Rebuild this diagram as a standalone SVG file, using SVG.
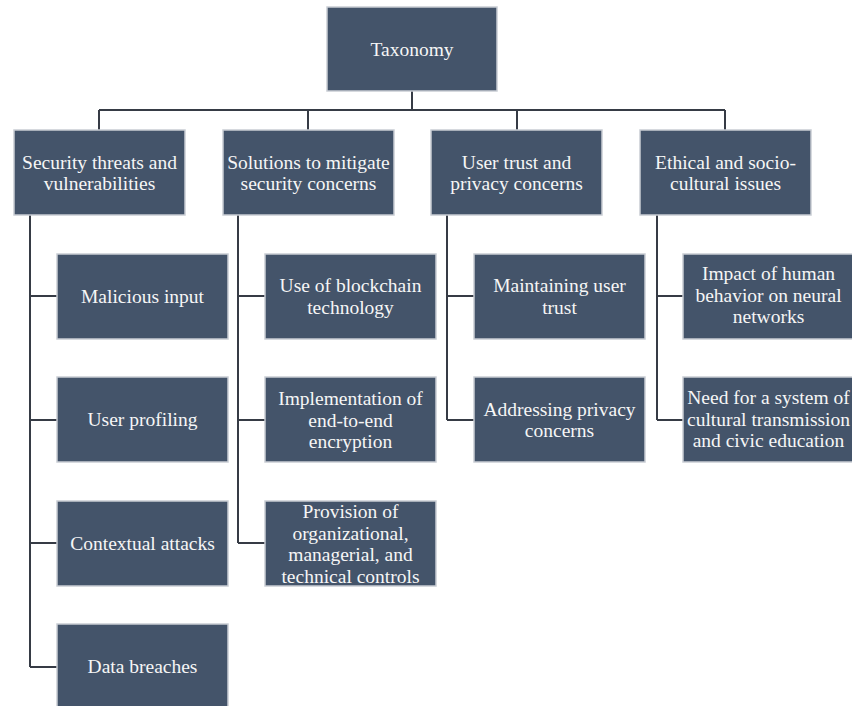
<svg xmlns="http://www.w3.org/2000/svg" width="852" height="706" viewBox="0 0 852 706">
<style>
.box{fill:#44546a;stroke:#c9cdd4;stroke-width:1.5}
.t{font-size:19.5px;fill:#f6f6f6;text-anchor:middle}
.c{fill:none;stroke:#363b45;stroke-width:2}
</style>
<rect width="852" height="706" fill="#ffffff"/>
<g id="connectors" class="c">
<path d="M412 91V110M99 110H725M99 110V130M308 110V130M517 110V130M725 110V130"/>
<path d="M30 215V667M30 296H57M30 420H57M30 543H57M30 667H57"/>
<path d="M238 215V543M238 296H265M238 420H265M238 543H265"/>
<path d="M447 215V420M447 296H474M447 420H474"/>
<path d="M657 215V420M657 296H683M657 420H683"/>
</g>
<g font-family="Liberation Serif, Tinos, DejaVu Serif, serif">
<g id="taxonomy"><rect class="box" x="327" y="7" width="170" height="84"/><text class="t" x="412" y="55.5">Taxonomy</text></g>
<g id="security"><rect class="box" x="14" y="130" width="171" height="85"/><text class="t" x="99.5" y="168.5">Security threats and</text><text class="t" x="99.5" y="190">vulnerabilities</text></g>
<g id="solutions"><rect class="box" x="223" y="130" width="171" height="85"/><text class="t" x="308.5" y="168.5">Solutions to mitigate</text><text class="t" x="308.5" y="190">security concerns</text></g>
<g id="usertrust"><rect class="box" x="431" y="130" width="171" height="85"/><text class="t" x="516.5" y="168.5">User trust and</text><text class="t" x="516.5" y="190">privacy concerns</text></g>
<g id="ethical"><rect class="box" x="640" y="130" width="171" height="85"/><text class="t" x="725.5" y="168.5">Ethical and socio-</text><text class="t" x="725.5" y="190">cultural issues</text></g>
<g id="malicious"><rect class="box" x="57" y="254" width="171" height="85"/><text class="t" x="142.5" y="302.5">Malicious input</text></g>
<g id="profiling"><rect class="box" x="57" y="377" width="171" height="85"/><text class="t" x="142.5" y="426">User profiling</text></g>
<g id="contextual"><rect class="box" x="57" y="501" width="171" height="85"/><text class="t" x="142.5" y="549.5">Contextual attacks</text></g>
<g id="breaches"><rect class="box" x="57" y="624" width="171" height="85"/><text class="t" x="142.5" y="673">Data breaches</text></g>
<g id="blockchain"><rect class="box" x="265" y="254" width="171" height="85"/><text class="t" x="350.5" y="292">Use of blockchain</text><text class="t" x="350.5" y="313.5">technology</text></g>
<g id="encryption"><rect class="box" x="265" y="377" width="171" height="85"/><text class="t" x="350.5" y="405">Implementation of</text><text class="t" x="350.5" y="426.5">end-to-end</text><text class="t" x="350.5" y="448">encryption</text></g>
<g id="controls"><rect class="box" x="265" y="501" width="171" height="85"/><text class="t" x="350.5" y="518">Provision of</text><text class="t" x="350.5" y="539.5">organizational,</text><text class="t" x="350.5" y="561">managerial, and</text><text class="t" x="350.5" y="582.5">technical controls</text></g>
<g id="maintaining"><rect class="box" x="474" y="254" width="171" height="85"/><text class="t" x="559.5" y="292">Maintaining user</text><text class="t" x="559.5" y="313.5">trust</text></g>
<g id="privacy"><rect class="box" x="474" y="377" width="171" height="85"/><text class="t" x="559.5" y="415.5">Addressing privacy</text><text class="t" x="559.5" y="437">concerns</text></g>
<g id="impact"><rect class="box" x="683" y="254" width="171" height="85"/><text class="t" x="768.5" y="280">Impact of human</text><text class="t" x="768.5" y="301.5">behavior on neural</text><text class="t" x="768.5" y="323">networks</text></g>
<g id="need"><rect class="box" x="683" y="377" width="171" height="85"/><text class="t" x="768.5" y="404">Need for a system of</text><text class="t" x="768.5" y="425.5">cultural transmission</text><text class="t" x="768.5" y="447">and civic education</text></g>
</g>
</svg>
